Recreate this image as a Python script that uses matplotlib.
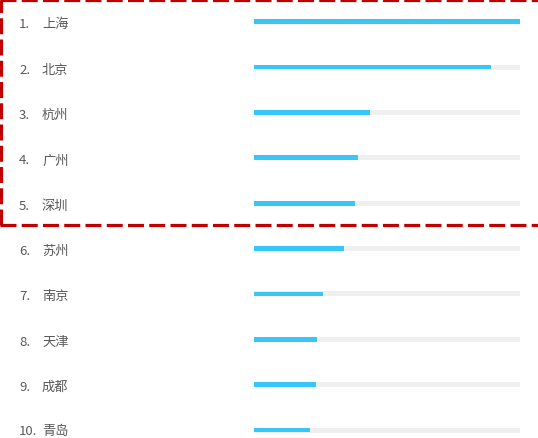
import matplotlib.pyplot as plt

plt.rcParams['font.family'] = ['Noto Sans CJK SC', 'DejaVu Sans']

cities = ["上海", "北京", "杭州", "广州", "深圳", "苏州", "南京", "天津", "成都", "青岛"]
ranks = ["1.", "2.", "3.", "4.", "5.", "6.", "7.", "8.", "9.", "10."]
values = [100, 89, 43.5, 39, 38, 34, 25.8, 23.6, 23.3, 21.2]

W, H = 538, 438
fig = plt.figure(figsize=(W / 100, H / 100), dpi=100)

# bar area: x from 254px to 520px, rows every ~45.4px starting at 21.7px
x0, x1 = 254, 520
row0, step = 21.7, 45.37
ax = fig.add_axes([x0 / W, 0, (x1 - x0) / W, 1])
ax.set_xlim(0, 100)
ax.set_ylim((H - row0) / step, -row0 / step)
ax.axis('off')

pos = list(range(len(cities)))
ax.barh(pos, [100] * len(pos), height=0.11, color="#efefef")
ax.barh(pos, values, height=0.105, color="#38c6f6")

for i in pos:
    # last row sits right at the bottom edge, nudge it less
    dy = -2.2 if i < len(pos) - 1 else -1.2
    ax.annotate(ranks[i], xy=(19, i), xycoords=('figure pixels', 'data'),
                xytext=(0, dy), textcoords='offset points',
                ha='left', va='center', fontsize=9.5, color="#595959")
    ax.annotate(cities[i], xy=(42, i), xycoords=('figure pixels', 'data'),
                xytext=(0, dy), textcoords='offset points',
                ha='left', va='center', fontsize=9.5, color="#595959")

# red dashed highlight box around top 5
ov = fig.add_axes([0, 0, 1, 1])
ov.set_xlim(0, W)
ov.set_ylim(H, 0)
ov.axis('off')
lw = 2.3
dash = (0, (11.5 / lw, 3.8 / lw))
red = "#c00000"
ov.plot([1.4, 1.4], [225.4, 0], color=red, lw=lw, linestyle=dash, solid_capstyle='butt')
ov.plot([0, 560], [225.4, 225.4], color=red, lw=lw, linestyle=dash)
ov.plot([0, 560], [0.4, 0.4], color=red, lw=lw, linestyle=dash)

fig.savefig("out.png", dpi=100)
